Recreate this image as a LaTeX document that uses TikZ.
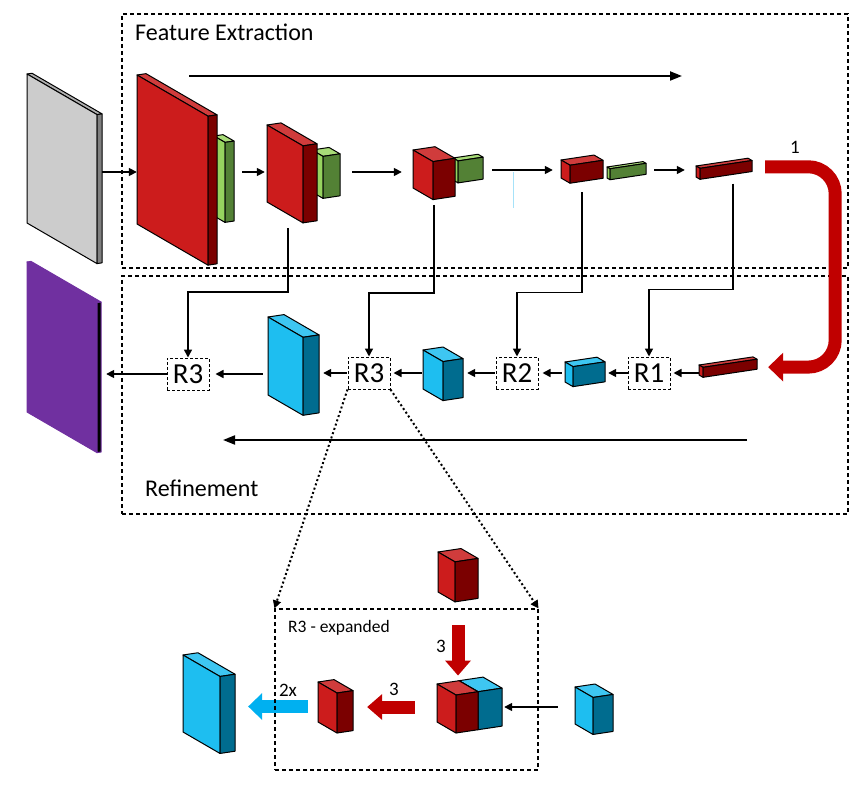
\documentclass[tikz,border=0pt]{standalone}
\usepackage{fontspec}
\setmainfont{Carlito}
\usetikzlibrary{arrows.meta, fit}

% face colours: A = left face, B = right face, T = top, L = outline
\definecolor{redA}{HTML}{CC1C1C}
\definecolor{redB}{HTML}{7B0000}
\definecolor{redT}{HTML}{D03C3C}
\colorlet{redL}{black}
\definecolor{greenA}{HTML}{96D35F}
\definecolor{greenB}{HTML}{538135}
\definecolor{greenT}{HTML}{A8DC78}
\colorlet{greenL}{black}
\definecolor{blueA}{HTML}{1EBEF0}
\definecolor{blueB}{HTML}{006C8F}
\definecolor{blueT}{HTML}{3EC6F2}
\colorlet{blueL}{black}
\definecolor{grayA}{HTML}{CCCCCC}
\definecolor{grayB}{HTML}{7F7F7F}
\definecolor{grayT}{HTML}{B0B0B0}
\colorlet{grayL}{black}
\definecolor{purpleA}{HTML}{7030A0}
\colorlet{purpleB}{black}
\colorlet{purpleT}{purpleA}
\colorlet{purpleL}{purpleA}
\definecolor{fatredc}{HTML}{C00000}
\definecolor{fatbluec}{HTML}{00B0F0}

\def\blkslope{0.58}
\def\blkrise{0.15}
% block: name, x, y, width, depth, height, colour family
\newcommand{\blk}[7]{%
  \filldraw[fill=#7T, draw=#7L, line width=1pt, line join=round] (#2,#3) -- ++({#4},{\blkslope*#4}) -- ++({#5},{-\blkrise*#5}) -- ++({-#4},{-\blkslope*#4}) -- cycle;
  \filldraw[fill=#7A, draw=#7L, line width=1pt, line join=round] (#2,#3) -- ++({#4},{\blkslope*#4}) -- ++(0,#6) -- ++({-#4},{-\blkslope*#4}) -- cycle;
  \filldraw[fill=#7B, draw=#7L, line width=1pt, line join=round] ({#2+#4},{#3+\blkslope*#4}) -- ++({#5},{-\blkrise*#5}) -- ++(0,#6) -- ++({-#5},{\blkrise*#5}) -- cycle;
  \node[fit={(#2,{#3-\blkrise*#5}) ({#2+#4+#5},{#3+\blkslope*#4+#6})}, inner sep=0pt] (#1) {};
}

\tikzset{
  arr/.style={line width=1.6pt, -{Triangle[length=8pt,width=8pt]}},
  longarr/.style={line width=2pt, -{Triangle[length=12pt,width=9pt]}},
  area/.style={draw, dash pattern=on 4pt off 3pt, line width=1.1pt, inner sep=0pt},
  rbox/.style={draw, fill=white, dash pattern=on 3pt off 2pt, line width=1pt, minimum width=42pt, minimum height=32pt, inner sep=0pt, font=\fontsize{29}{30}\selectfont},
  title/.style={inner sep=0pt, font=\fontsize{24}{28}\selectfont},
  num/.style={inner sep=0pt, font=\fontsize{19}{20}\selectfont},
  dots/.style={line width=2pt, dash pattern=on 2pt off 2.5pt, -{Triangle[length=8pt,width=8pt]}},
  feedback/.style={line width=13pt, draw=fatredc, -{Triangle[length=15pt,width=29pt,line width=0pt]}},
  fatred/.style={line width=13pt, draw=fatredc, -{Triangle[length=15pt,width=26pt,line width=0pt]}},
  fatblue/.style={line width=13pt, draw=fatbluec, -{Triangle[length=14pt,width=27pt,line width=0pt]}}
}

\begin{document}
\begin{tikzpicture}[x=1pt, y=-1pt]
\useasboundingbox (0,0) rectangle (867,786);

% areas
\node[area, minimum width=726pt, minimum height=254pt] (fe) at (485,141) {};
\node[area, minimum width=726pt, minimum height=238pt] (rf) at (485,395) {};
\node[title, anchor=base west] (feT) at (135,41) {Feature Extraction};
\node[title, anchor=base west] (rfT) at (145,496) {Refinement};

% encoder
\blk{img}{27}{74}{70}{5}{149}{gray}
\blk{g1}{214}{136}{11}{9}{80}{green}
\blk{r1}{137}{75}{71}{9}{149}{red}
\blk{g2}{312}{150}{11}{17}{42}{green}
\blk{r2}{267}{125}{36}{14}{77}{red}
\blk{g3}{453}{158}{5}{25}{22}{green}
\blk{r3}{413}{150}{20}{22}{38}{red}
\blk{g4}{607}{167}{3}{36}{11}{green}
\blk{r4}{561}{160}{9}{33}{18}{red}
\blk{r5}{696}{166}{4}{52}{11}{red}

\coordinate (fwdA) at (189,76);
\coordinate (fwdB) at (682,76);
\draw[longarr] (fwdA) -- (fwdB);

\draw[arr] (img.east |- 0,172) -- (r1.west |- 0,172);
\draw[arr, shorten <=8pt, shorten >=2pt] (g1.east |- 0,172) -- (r2.west |- 0,172);
\draw[arr, shorten <=12pt, shorten >=11pt] (g2.east |- 0,172) -- (r3.west |- 0,172);
\draw[arr, shorten <=9pt, shorten >=8pt] (g3.east |- 0,170) -- (r4.west |- 0,170);
\draw[arr, shorten <=8pt, shorten >=11pt] (g4.east |- 0,170) -- (r5.west |- 0,170);
\draw[cyan!35, line width=0.7pt] (513,172) -- (513,208);

% decoder
\blk{out}{27}{262}{70}{4}{150}{purple}
\blk{b1}{268}{317}{35}{16}{78}{blue}
\blk{b2}{423}{350}{20}{20}{39}{blue}
\blk{b3}{565}{362}{8}{32}{20}{blue}
\blk{r6}{699}{365}{4}{54}{10}{red}

\node[rbox] (R3a) at (188,374) {R3};
\node[rbox] (R3b) at (369,373) {R3};
\node[rbox] (R2) at (517,373) {R2};
\node[rbox] (R1) at (649,373) {R1};

% skip connections
\draw[arr, shorten <=5pt] ([xshift=-4pt]r2.south) -- ++(0,69) -| (R3a.north);
\draw[arr, shorten <=5pt] (r3.south) -- ++(0,93) -| (R3b.north);
\draw[arr, shorten <=9pt] (r4.south) -- ++(0,109) -| (R2.north);
\draw[arr, shorten <=4pt] ([xshift=9pt]r5.south) -- ++(0,110) -| (R1.north);

\draw[arr, shorten >=3pt] (R1.east -| r6.west) -- (R1.east);
\draw[arr, shorten >=3pt] (R1.west) -- (R1.west -| b3.east);
\draw[arr, shorten <=3pt, shorten >=4pt] (R2.east -| b3.west) -- (R2.east);
\draw[arr, shorten <=1pt, shorten >=4pt] (R2.west) -- (R2.west -| b2.east);
\draw[arr, shorten <=1pt, shorten >=3pt] (R3b.east -| b2.west) -- (R3b.east);
\draw[arr, shorten <=1pt, shorten >=4pt] (R3b.west) -- (R3b.west -| b1.east);
\draw[arr, shorten <=5pt, shorten >=6pt] (R3a.east -| b1.west) -- (R3a.east);
\draw[arr, shorten >=5pt] (R3a.west) -- (R3a.west -| out.east);

\coordinate (bwdA) at (747,440);
\coordinate (bwdB) at (223,440);
\draw[longarr] (bwdA) -- (bwdB);

% bottleneck feedback
\draw[feedback, rounded corners=27pt] ([xshift=13pt, yshift=2pt]r5.east) -| ([xshift=78pt]r6.east) -- ([xshift=11pt]r6.east);
\node[num, anchor=base] (one) at (795,154) {1};

% R3 expanded
\blk{xt}{438}{552}{17}{23}{40}{red}
\blk{x3}{459}{680.7}{19}{24}{38}{blue}
\blk{x2}{437}{684}{19}{22}{38}{red}
\blk{xb}{575}{687}{18}{20}{37}{blue}
\blk{xs}{318}{682}{19}{16}{40}{red}
\blk{xo}{183}{655}{37}{15}{77}{blue}

\draw[fatred, shorten <=23pt, shorten >=5pt] (xt.south) -- (xt.south |- x2.north);
\node[num, anchor=base] (n3a) at (441,652) {3};
\draw[arr, shorten <=17pt, shorten >=2pt] (xb.west |- 0,707) -- (x3.east |- 0,707);
\draw[fatred, shorten <=22pt, shorten >=14pt] (x2.west |- 0,707) -- (xs.east |- 0,707);
\node[num, anchor=base] (n3b) at (394,695) {3};
\draw[fatblue, shorten <=10pt, shorten >=13pt] (xs.west |- 0,706.5) -- (xo.east |- 0,706.5);
\node[num, anchor=base] (n2x) at (288,696) {2x};

\node[area, minimum width=263pt, minimum height=161pt] (xbox) at (406.5,689.5) {};
\node[anchor=base west, inner sep=0pt, font=\fontsize{17.5}{20}\selectfont] (xT) at (288,632) {R3 - expanded};
\draw[dots] (R3b.south west) -- (xbox.north west);
\draw[dots] (R3b.south east) -- (xbox.north east);

\end{tikzpicture}
\end{document}
